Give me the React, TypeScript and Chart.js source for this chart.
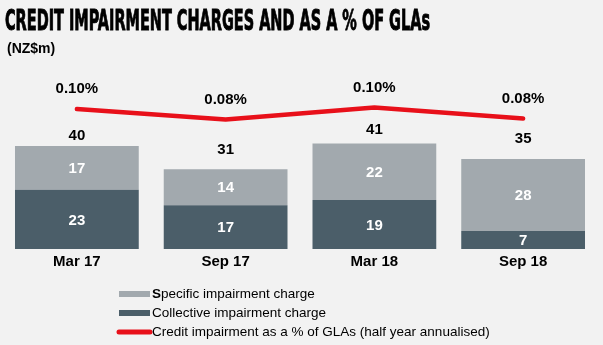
import React, { useEffect, useRef } from "react";
import { Chart, registerables } from "chart.js";

Chart.register(...registerables);

const categories = ["Mar 17", "Sep 17", "Mar 18", "Sep 18"];
const specificCharge = [17, 14, 22, 28];
const collectiveCharge = [23, 17, 19, 7];
const impairmentPct = [0.099, 0.079, 0.102, 0.081];
const impairmentPctLabels = ["0.10%", "0.08%", "0.10%", "0.08%"];
const totalLabelGap = [10, 19, 14, 20];

const TITLE = "CREDIT IMPAIRMENT CHARGES AND AS A % OF GLAs";
const UNIT = "(NZ$m)";
const LEGEND_SPECIFIC = "Specific impairment charge";
const LEGEND_COLLECTIVE = "Collective impairment charge";
const LEGEND_PCT = "Credit impairment as a % of GLAs (half year annualised)";

const LIGHT = "#a2a9ae";
const DARK = "#4b5e69";
const RED = "#e8101a";
const FONT = '"Liberation Sans", Arial, sans-serif';

const decorPlugin = {
  id: "decor",
  afterDraw(chart: any) {
    const ctx = chart.ctx as CanvasRenderingContext2D;
    ctx.save();
    // Title
    ctx.font = 'bold 28px "Liberation Sans Narrow", "DejaVu Sans Condensed", "Liberation Sans", sans-serif';
    ctx.textBaseline = "alphabetic";
    ctx.textAlign = "left";
    ctx.fillStyle = "#000";
    ctx.strokeStyle = "#000";
    const w = ctx.measureText(TITLE).width;
    const sx = 425 / w;
    ctx.save();
    ctx.translate(5, 30);
    ctx.scale(sx, 1);
    ctx.lineWidth = 0.9;
    ctx.fillText(TITLE, 0, 0);
    ctx.strokeText(TITLE, 0, 0);
    ctx.restore();
    // Unit
    ctx.font = "bold 14px " + FONT;
    ctx.textBaseline = "middle";
    ctx.fillText(UNIT, 7, 49);
    // Legend
    const tx = 152;
    const rows = [
      { y: 294, text: LEGEND_SPECIFIC, kind: "box", color: LIGHT, boldFirst: true },
      { y: 313, text: LEGEND_COLLECTIVE, kind: "box", color: DARK, boldFirst: false },
      { y: 332, text: LEGEND_PCT, kind: "line", color: RED, boldFirst: false },
    ];
    rows.forEach((r) => {
      if (r.kind === "box") {
        ctx.fillStyle = r.color;
        ctx.fillRect(119, r.y - 3, 31, 6);
      } else {
        ctx.strokeStyle = r.color;
        ctx.lineWidth = 5;
        ctx.lineCap = "round";
        ctx.beginPath();
        ctx.moveTo(119, r.y);
        ctx.lineTo(150, r.y);
        ctx.stroke();
      }
      ctx.fillStyle = "#000";
      if (r.boldFirst) {
        const first = r.text.charAt(0);
        const rest = r.text.slice(1);
        ctx.font = "bold 13.5px " + FONT;
        ctx.fillText(first, tx, r.y);
        const fw = ctx.measureText(first).width;
        ctx.font = "13.5px " + FONT;
        ctx.fillText(rest, tx + fw, r.y);
      } else {
        ctx.font = "13.5px " + FONT;
        ctx.fillText(r.text, tx, r.y);
      }
    });
    ctx.restore();
  },
};

const labelPlugin = {
  id: "valueLabels",
  afterDatasetsDraw(chart: any) {
    const ctx = chart.ctx as CanvasRenderingContext2D;
    const m0 = chart.getDatasetMeta(0);
    const m1 = chart.getDatasetMeta(1);
    const m2 = chart.getDatasetMeta(2);
    ctx.save();
    ctx.textAlign = "center";
    ctx.textBaseline = "middle";
    ctx.font = "bold 15px " + FONT;
    categories.forEach((_, i) => {
      const a = m0.data[i];
      const b = m1.data[i];
      const p = m2.data[i];
      ctx.fillStyle = "#fff";
      ctx.fillText(String(collectiveCharge[i]), a.x, (a.y + a.base) / 2 + 1);
      ctx.fillText(String(specificCharge[i]), b.x, (b.y + b.base) / 2 + 1);
      ctx.fillStyle = "#000";
      ctx.fillText(String(collectiveCharge[i] + specificCharge[i]), b.x, b.y - totalLabelGap[i]);
      ctx.fillText(impairmentPctLabels[i], p.x, p.y - 20);
    });
    ctx.restore();
  },
};

export default function App() {
  const ref = useRef<HTMLCanvasElement>(null);
  useEffect(() => {
    if (!ref.current) return;
    const chart = new Chart(ref.current, {
      type: "bar",
      data: {
        labels: categories,
        datasets: [
          {
            label: LEGEND_COLLECTIVE,
            data: collectiveCharge,
            backgroundColor: DARK,
            yAxisID: "y",
            stack: "s",
            order: 2,
            barPercentage: 0.832,
            categoryPercentage: 1,
          },
          {
            label: LEGEND_SPECIFIC,
            data: specificCharge,
            backgroundColor: LIGHT,
            yAxisID: "y",
            stack: "s",
            order: 2,
            barPercentage: 0.832,
            categoryPercentage: 1,
          },
          {
            type: "line",
            label: LEGEND_PCT,
            data: impairmentPct,
            borderColor: RED,
            backgroundColor: RED,
            borderWidth: 4.5,
            borderCapStyle: "round",
            borderJoinStyle: "round",
            pointRadius: 0,
            tension: 0,
            yAxisID: "y1",
            order: 1,
          } as any,
        ],
      },
      options: {
        animation: false,
        responsive: true,
        maintainAspectRatio: false,
        layout: { padding: { top: 60, bottom: 70, left: 2.5, right: 5.5 } },
        plugins: {
          legend: { display: false },
          tooltip: { enabled: false },
          title: { display: false },
        },
        scales: {
          x: {
            stacked: true,
            grid: { display: false, drawTicks: false },
            border: { display: false },
            ticks: {
              color: "#000",
              padding: 4,
              font: { family: FONT, size: 15, weight: "bold" },
            },
          },
          y: {
            stacked: true,
            display: false,
            min: 0,
            max: 73.4,
          },
          y1: {
            display: false,
            min: -0.1676,
            max: 0.1924,
          },
        },
      },
      plugins: [labelPlugin, decorPlugin],
    });
    return () => chart.destroy();
  }, []);
  return (
    <div
      style={{
        position: "fixed",
        left: 0,
        top: 0,
        width: 603,
        height: 345,
        background: "#f2f2f2",
      }}
    >
      <canvas ref={ref} />
    </div>
  );
}
